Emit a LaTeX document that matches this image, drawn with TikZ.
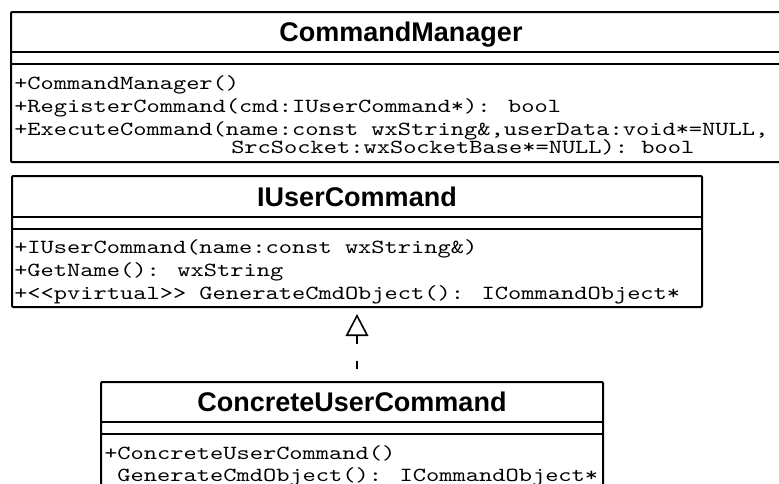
\documentclass[tikz,border=0pt]{standalone}
\usepackage{fontspec}
\usetikzlibrary{fit,arrows.meta}
\newfontfamily\umlmono{lmmono10-regular.otf}[FakeStretch=1.26]
\newfontfamily\umlsans{Liberation Sans}

\tikzset{
  classbox/.style={draw=black, line width=1.5pt, rounded corners=0.8pt, inner sep=0pt},
  sepline/.style={draw=black, line width=1.5pt},
  classtitle/.style={font=\umlsans\bfseries\fontsize{20.25pt}{24pt}\selectfont, anchor=base, inner sep=0pt},
  member/.style={font=\umlmono\fontsize{15pt}{18pt}\selectfont, anchor=base west, inner sep=0pt,
    text depth=0pt},
  realize/.style={line width=1.2pt, dash pattern=on 6pt off 12.75pt,
    {Triangle[open, length=16.5pt, width=17pt, line width=1.2pt]}-},
}

\begin{document}
\begin{tikzpicture}[x=0.75pt, y=-0.75pt]
  \useasboundingbox (0,0) rectangle (779,483);
  \fill[white] (0,0) rectangle (779,483);
  \clip (0,0) rectangle (779,483);

  % class CommandManager
  \node[classbox, fit={(11,12) (791,162)}] (cm) {};
  \draw[sepline] (cm.west |- 0,52) -- (cm.east |- 0,52);
  \draw[sepline] (cm.west |- 0,64) -- (cm.east |- 0,64);
  \node[classtitle] (cm-title) at (401,41.5) {CommandManager};
  \node[member] (cm-m1) at (14,89) {+CommandManager()};
  \node[member] (cm-m2) at (14,112) {+RegisterCommand(cmd:IUserCommand*): bool};
  \node[member] (cm-m3) at (14,135) {+ExecuteCommand(name:const wxString\&,userData:void*=NULL,};
  \node[member] (cm-m3b) at (231,153) {SrcSocket:wxSocketBase*=NULL): bool};

  % class IUserCommand
  \node[classbox, fit={(12,176) (702,307)}] (iuc) {};
  \draw[sepline] (iuc.west |- 0,217) -- (iuc.east |- 0,217);
  \draw[sepline] (iuc.west |- 0,229) -- (iuc.east |- 0,229);
  \node[classtitle] (iuc-title) at (iuc.north |- 0,206.5) {IUserCommand};
  \node[member] (iuc-m1) at (14,253) {+IUserCommand(name:const wxString\&)};
  \node[member] (iuc-m2) at (14,276) {+GetName(): wxString};
  \node[member] (iuc-m3) at (14,299) {+<{}<pvirtual>{}> GenerateCmdObject(): ICommandObject*};

  % class ConcreteUserCommand
  \node[classbox, fit={(101,382) (603,500)}] (cuc) {};
  \draw[sepline] (cuc.west |- 0,422) -- (cuc.east |- 0,422);
  \draw[sepline] (cuc.west |- 0,434) -- (cuc.east |- 0,434);
  \node[classtitle] (cuc-title) at (cuc.north |- 0,411.5) {ConcreteUserCommand};
  \node[member] (cuc-m1) at (104,459) {+ConcreteUserCommand()};
  \node[member] (cuc-m2) at (104,481) {\ GenerateCmdObject(): ICommandObject*};

  % realization: ConcreteUserCommand implements IUserCommand
  \draw[realize, shorten <=4.5pt] (iuc.south) -- (iuc.south |- cuc.north);
\end{tikzpicture}
\end{document}
